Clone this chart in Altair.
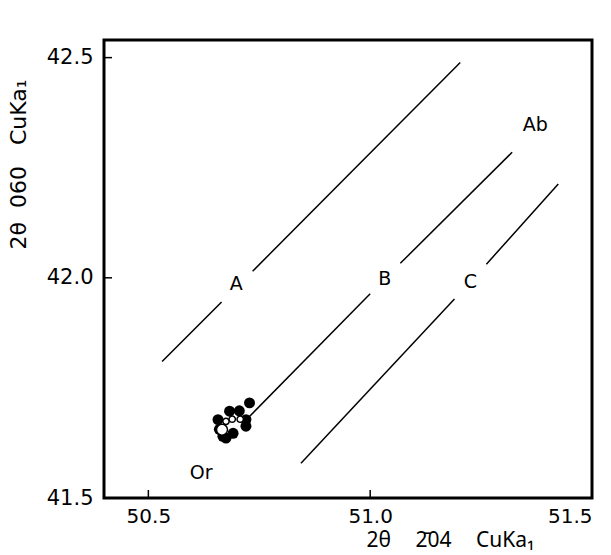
import altair as alt
import pandas as pd

# axis ticks
x_ticks = [50.5, 51.0, 51.5]
y_ticks = [41.5, 42.0, 42.5]

# reference lines (broken around labels)
seg_names = ["A1", "A1", "A2", "A2", "B1", "B1", "B2", "B2", "C1", "C1", "C2", "C2"]
seg_x = [50.531, 50.665, 50.735, 51.203, 50.724, 51.000, 51.068, 51.320, 50.844, 51.190, 51.262, 51.424]
seg_y = [41.810, 41.945, 42.015, 42.489, 41.681, 41.964, 42.033, 42.285, 41.579, 41.952, 42.031, 42.213]

# filled points
fill_x = [50.728, 50.657, 50.683, 50.705, 50.720, 50.720, 50.675, 50.660, 50.691, 50.668]
fill_y = [41.716, 41.678, 41.697, 41.698, 41.678, 41.663, 41.636, 41.656, 41.647, 41.640]

# open points
open_x = [50.675, 50.689, 50.707, 50.666]
open_y = [41.674, 41.679, 41.679, 41.655]
open_size = [40, 40, 40, 120]

# labels
lab_text = ["A", "B", "C", "Ab", "Or"]
lab_x = [50.698, 51.033, 51.226, 51.372, 50.619]
lab_y = [41.986, 41.998, 41.991, 42.346, 41.557]

FONT = "DejaVu Sans"
NB = "\u00a0"

xs = alt.Scale(domain=[50.4, 51.5], nice=False, zero=False)
ys = alt.Scale(domain=[41.5, 42.54], nice=False, zero=False)

seg_df = pd.DataFrame({"seg": seg_names, "x": seg_x, "y": seg_y})
fill_df = pd.DataFrame({"x": fill_x, "y": fill_y})
open_df = pd.DataFrame({"x": open_x, "y": open_y, "s": open_size})
lab_df = pd.DataFrame({"t": lab_text, "x": lab_x, "y": lab_y})
xt_df = pd.DataFrame({"x": x_ticks})
yt_df = pd.DataFrame({"y": y_ticks})

x_title = "2θ\u2003\u20092\u030404\u2003\u2009CuKa₁"
y_title = "2θ" + NB * 2 + "060" + NB * 3 + "CuKa₁"

x_axis = alt.Axis(values=x_ticks, format=".1f", domain=False, ticks=False, grid=False,
                  labelFont=FONT, labelFontSize=20, labelColor="black", labelPadding=8,
                  title=x_title, titleFont="Noto Sans", titleFontSize=21,
                  titleFontWeight="normal", titleColor="black",
                  titleX=346, titleY=31, titleAlign="center", titleBaseline="top")
y_axis = alt.Axis(values=y_ticks, format=".1f", domain=False, ticks=False, grid=False,
                  labelFont=FONT, labelFontSize=21, labelColor="black", labelPadding=11,
                  title=y_title, titleFont=FONT, titleFontSize=22,
                  titleFontWeight="normal", titleColor="black",
                  titleX=-86, titleY=124, titleAngle=270, titleAlign="center",
                  titleBaseline="middle")

lines = alt.Chart(seg_df).mark_line(color="black", strokeWidth=1.5).encode(
    x=alt.X("x:Q", scale=xs, axis=x_axis),
    y=alt.Y("y:Q", scale=ys, axis=y_axis),
    detail="seg:N",
)

filled = alt.Chart(fill_df).mark_point(filled=True, color="black", opacity=1, size=120).encode(
    x=alt.X("x:Q", scale=xs), y=alt.Y("y:Q", scale=ys)
)

opened = alt.Chart(open_df).mark_point(filled=False, fill="white", fillOpacity=1,
                                       stroke="black", strokeWidth=1.5, opacity=1).encode(
    x=alt.X("x:Q", scale=xs), y=alt.Y("y:Q", scale=ys),
    size=alt.Size("s:Q", scale=None, legend=None),
)

labels = alt.Chart(lab_df).mark_text(font=FONT, fontSize=19, color="black",
                                     align="center", baseline="middle").encode(
    x=alt.X("x:Q", scale=xs), y=alt.Y("y:Q", scale=ys), text="t:N"
)

xticks = alt.Chart(xt_df).mark_rule(color="black", strokeWidth=1.5).encode(
    x=alt.X("x:Q", scale=xs), y=alt.value(458), y2=alt.value(450)
)
yticks = alt.Chart(yt_df).mark_rule(color="black", strokeWidth=1.5).encode(
    y=alt.Y("y:Q", scale=ys), x=alt.value(0), x2=alt.value(8)
)

chart = alt.layer(xticks, yticks, lines, filled, opened, labels).properties(
    width=488, height=458,
    autosize=alt.AutoSizeParams(type="none"),
    padding={"left": 104, "top": 40, "right": 19, "bottom": 57},
    background="white",
).configure_view(stroke="black", strokeWidth=3)

chart.save("out.html", embed_options={"renderer": "svg", "actions": False})
